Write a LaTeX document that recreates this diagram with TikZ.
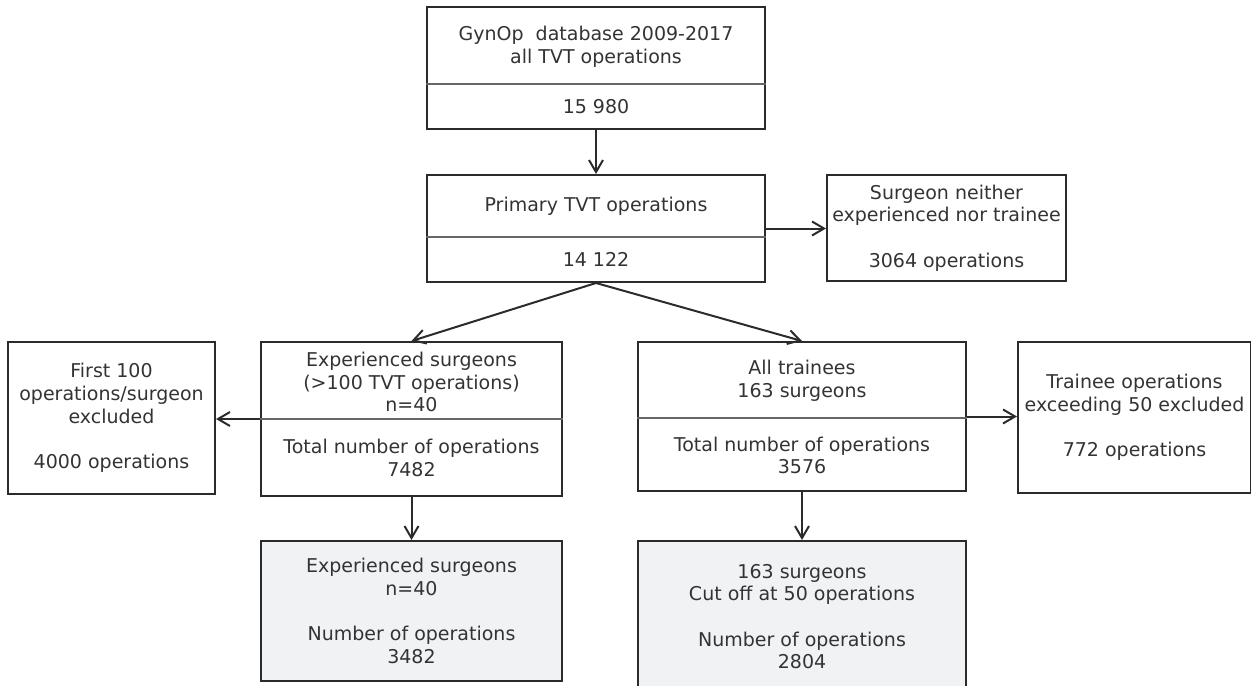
\documentclass[tikz,border=0pt]{standalone}
\usepackage{fontspec}
\setmainfont{DejaVu Sans}
\usetikzlibrary{arrows.meta}
\definecolor{txt}{HTML}{333333}
\definecolor{edge}{HTML}{2B2B2B}
\definecolor{divcol}{HTML}{666666}
\definecolor{shade}{HTML}{F1F2F4}
\newcommand{\boxfont}{\fontsize{9.5pt}{11.35pt}\selectfont}
\begin{document}
\begin{tikzpicture}[x=0.5pt,y=-0.5pt,
  box/.style={draw=edge, line width=1pt, rectangle, inner sep=0pt, text=txt, align=center, font=\boxfont},
  final/.style={box, fill=shade},
  lbl/.style={inner sep=0pt, text=txt, align=center, font=\boxfont},
  divider/.style={draw=divcol, line width=0.6pt},
  arr/.style={draw=edge, line width=1pt, -{Straight Barb[length=6pt,width=7pt,line width=1pt]}}
]
\path[use as bounding box] (0,0) rectangle (1251,685);
\clip (0,0) rectangle (1251,685);

% boxes
\node[box, minimum width=169pt, minimum height=61pt] (top) at (596,68) {};
\node[box, minimum width=169pt, minimum height=53.5pt] (prim) at (596,228.5) {};
\node[box, minimum width=119.5pt, minimum height=53pt] (neither) at (946.5,228)
  {Surgeon neither\\experienced nor trainee\\[11.35pt]3064 operations};
\node[box, minimum width=150.5pt, minimum height=77pt] (exp) at (411.5,419) {};
\node[box, minimum width=164pt, minimum height=74.5pt] (trn) at (802,416.5) {};
\node[box, minimum width=103.5pt, minimum height=76pt] (left) at (111.5,418)
  {First 100\\operations/surgeon\\excluded\\[11.35pt]4000 operations};
\node[box, minimum width=116.5pt, minimum height=75.5pt] (right) at (1134.5,417.5)
  {Trainee operations\\exceeding 50 excluded\\[11.35pt]772 operations};
\node[final, minimum width=150.5pt, minimum height=70pt] (expb) at (411.5,611)
  {Experienced surgeons\\n=40\\[11.35pt]Number of operations\\3482};
\node[final, minimum width=164pt, minimum height=75.5pt] (trnb) at (802,616.5)
  {163 surgeons\\Cut off at 50 operations\\[11.35pt]Number of operations\\2804};

% section texts
\node[lbl] (topA) at (596,47) {GynOp\ \ database 2009-2017\\all TVT operations};
\node[lbl] (topB) at (596,106.5) {15 980};
\node[lbl] (primA) at (596,206) {Primary TVT operations};
\node[lbl] (primB) at (596,259.5) {14 122};
\node[lbl] (expA) at (411.5,382) {Experienced surgeons\\(>100 TVT operations)\\n=40};
\node[lbl] (expB) at (411.5,458) {Total number of operations\\7482};
\node[lbl] (trnA) at (802,381) {All trainees\\163 surgeons};
\node[lbl] (trnB) at (802,455.5) {Total number of operations\\3576};

% dividers
\coordinate (topd) at (596,84);
\coordinate (primd) at (596,237);
\coordinate (expd) at (411.5,419);
\coordinate (trnd) at (802,418);
\draw[divider] (top.west |- topd) -- (top.east |- topd);
\draw[divider] (prim.west |- primd) -- (prim.east |- primd);
\draw[divider] (exp.west |- expd) -- (exp.east |- expd);
\draw[divider] (trn.west |- trnd) -- (trn.east |- trnd);

% connectors
\draw[arr] (top.south) -- (prim.north);
\draw[arr] (prim.east) -- (neither.west |- prim.east);
\draw[arr] (prim.south) -- (exp.north);
\draw[arr] (prim.south) -- (trn.north);
\draw[arr] (exp.west) -- (left.east |- exp.west);
\draw[arr] (trn.east) -- (right.west |- trn.east);
\draw[arr] (exp.south) -- (expb.north);
\draw[arr] (trn.south) -- (trnb.north);
\end{tikzpicture}
\end{document}
